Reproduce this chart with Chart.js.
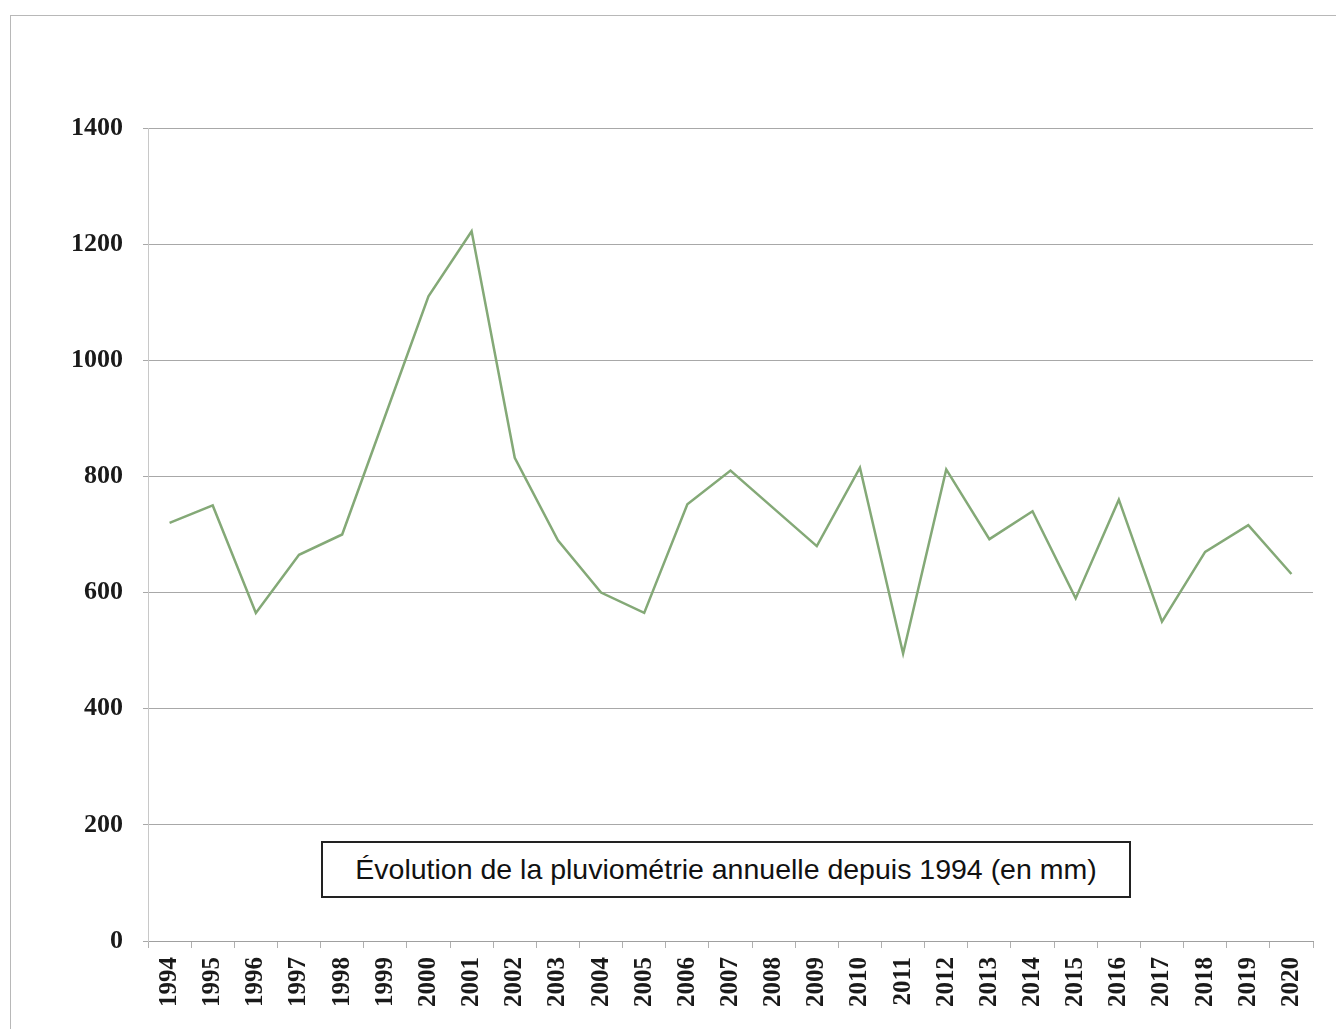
<!DOCTYPE html>
<html>
<head>
<meta charset="utf-8">
<script src="https://cdn.jsdelivr.net/npm/chart.js@4"></script>
<style>
  html, body { margin: 0; padding: 0; background: #fff; }
  #wrap { position: relative; width: 1336px; height: 1029px; overflow: hidden; }
  #frame { position: absolute; left: 10px; top: 15px; width: 1340px; height: 1030px; border: 1px solid #b8b8b8; box-sizing: border-box; }
  #chart { position: absolute; left: 0; top: 0; }
  #titlebox { position: absolute; left: 321px; top: 841px; width: 810px; height: 57px; border: 2px solid #222; box-sizing: border-box;
    font-family: "Liberation Sans", Arial, sans-serif; font-size: 28.5px; color: #111; display: flex; align-items: center; justify-content: center; background: #fff; white-space: nowrap; }
</style>
</head>
<body>
<div id="wrap">
  <div id="frame"></div>
  <canvas id="chart" width="1336" height="1029"></canvas>
  <div id="titlebox">Évolution de la pluviométrie annuelle depuis 1994 (en mm)</div>
</div>
<script>
const years = ["1994","1995","1996","1997","1998","1999","2000","2001","2002","2003","2004","2005","2006","2007","2008","2009","2010","2011","2012","2013","2014","2015","2016","2017","2018","2019","2020"];
const rainfall = [720, 750, 565, 665, 700, 905, 1110, 1222, 832, 690, 600, 565, 752, 810, 745, 680, 815, 495, 812, 692, 740, 590, 760, 550, 670, 716, 632];
const yTicks = [0, 200, 400, 600, 800, 1000, 1200, 1400];

new Chart(document.getElementById('chart'), {
  type: 'line',
  data: {
    labels: years,
    datasets: [{
      data: rainfall,
      borderColor: '#84a977',
      borderWidth: 2.5,
      pointRadius: 0,
      tension: 0,
      fill: false
    }]
  },
  options: {
    responsive: false,
    animation: false,
    plugins: { legend: { display: false }, tooltip: { enabled: false }, title: { display: false } },
    layout: { padding: { left: 0, top: 128, right: 23, bottom: 0 } },
    scales: {
      x: {
        offset: true,
        grid: { offset: true, drawOnChartArea: false, drawTicks: true, tickLength: 7, color: '#b0b0b0' },
        border: { color: '#a0a0a0' },
        ticks: {
          minRotation: 90, maxRotation: 90, autoSkip: false, padding: 9,
          color: '#1a1a1a', font: { family: 'Liberation Serif', size: 25, weight: 'bold' }
        },
        afterFit: (s) => { s.height = 88; }
      },
      y: {
        min: 0, max: 1400,
        afterBuildTicks: (s) => { s.ticks = yTicks.map(v => ({ value: v })); },
        grid: { color: '#a8a8a8', lineWidth: 1, tickLength: 5 },
        border: { color: '#c8c8c8' },
        ticks: {
          padding: 20, color: '#1a1a1a',
          font: { family: 'Liberation Serif', size: 26, weight: 'bold' },
          callback: (v) => String(v)
        },
        afterFit: (s) => { s.width = 148; }
      }
    }
  }
});
</script>
</body>
</html>
